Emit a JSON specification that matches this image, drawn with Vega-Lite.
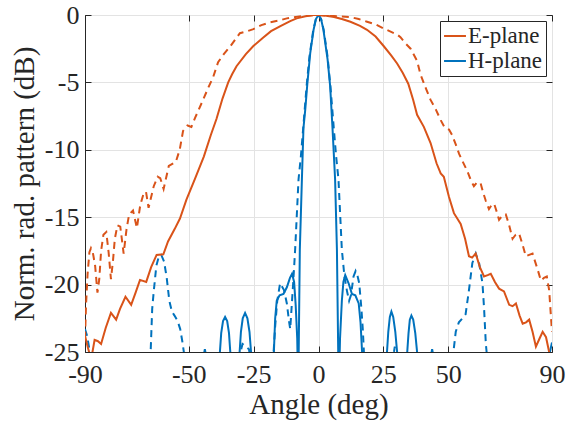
{
  "$schema": "https://vega.github.io/schema/vega-lite/v6.json",
  "autosize": "none",
  "width": 467,
  "height": 337,
  "padding": {"left": 85, "top": 15, "right": 23, "bottom": 72},
  "background": "white",
  "config": {
    "font": "Liberation Serif",
    "view": {"stroke": "#262626", "strokeWidth": 1},
    "axis": {
      "labelFont": "Liberation Serif", "titleFont": "Liberation Serif",
      "labelFontSize": 26, "titleFontSize": 29, "titleFontWeight": "normal",
      "labelColor": "#262626", "titleColor": "#262626",
      "domainColor": "#262626", "tickColor": "#262626",
      "gridColor": "#E3E3E3", "gridWidth": 1, "gridOpacity": 1,
      "tickSize": -6, "labelPadding": 12
    },
    "legend": {
      "labelFont": "Liberation Serif", "labelFontSize": 23, "labelColor": "#262626"
    },
    "text": {"font": "Liberation Serif"}
  },
  "datasets": {
    "Es": [
      {"x":-90,"y":-23.8},{"x":-89,"y":-24.6},{"x":-88,"y":-25.3},{"x":-87.3,"y":-25.2},{"x":-86.3,"y":-24.1},{"x":-85,"y":-24.2},{"x":-83.8,"y":-24.4},{"x":-82,"y":-23.2},{"x":-80,"y":-22.1},{"x":-78,"y":-22.6},{"x":-76.5,"y":-21.8},{"x":-74.4,"y":-20.9},{"x":-72.2,"y":-21.5},{"x":-70.5,"y":-20.6},{"x":-68.8,"y":-19.65},{"x":-66.4,"y":-19.8},{"x":-64.5,"y":-18.7},{"x":-62.4,"y":-17.8},{"x":-59.8,"y":-17.75},{"x":-58,"y":-16.8},{"x":-55.5,"y":-15.9},{"x":-53.4,"y":-15.1},{"x":-50.9,"y":-13.7},{"x":-47.7,"y":-12.2},{"x":-44.2,"y":-10.5},{"x":-41.5,"y":-8.9},{"x":-39.3,"y":-7.7},{"x":-37,"y":-6.2},{"x":-34.8,"y":-5.0},{"x":-33.3,"y":-4.4},{"x":-31.6,"y":-3.8},{"x":-28,"y":-2.9},{"x":-25.1,"y":-2.3},{"x":-21.5,"y":-1.7},{"x":-18.3,"y":-1.2},{"x":-14.5,"y":-0.8},{"x":-10.9,"y":-0.45},{"x":-8.4,"y":-0.25},{"x":-5,"y":-0.1},{"x":-2,"y":0},{"x":0,"y":0},{"x":3,"y":-0.05},{"x":6,"y":-0.15},{"x":9,"y":-0.3},{"x":12.3,"y":-0.5},{"x":16,"y":-0.8},{"x":18.7,"y":-1.1},{"x":22,"y":-1.6},{"x":25.1,"y":-2.3},{"x":28,"y":-3.0},{"x":30.3,"y":-3.6},{"x":32.5,"y":-4.3},{"x":34.6,"y":-5.1},{"x":36.5,"y":-6.3},{"x":38,"y":-7.4},{"x":40.6,"y":-8.3},{"x":43.2,"y":-9.5},{"x":45.5,"y":-11.0},{"x":47.1,"y":-11.75},{"x":48.3,"y":-12.0},{"x":50.3,"y":-13.5},{"x":52.2,"y":-14.7},{"x":54.8,"y":-15.5},{"x":56.5,"y":-16.6},{"x":58,"y":-17.9},{"x":59.2,"y":-18.0},{"x":60.6,"y":-17.7},{"x":62.2,"y":-18.7},{"x":63.8,"y":-19.4},{"x":65.2,"y":-19.3},{"x":66.4,"y":-19.2},{"x":68,"y":-19.8},{"x":69.6,"y":-20.3},{"x":71.5,"y":-20.5},{"x":73.5,"y":-21.5},{"x":74.8,"y":-21.6},{"x":76.1,"y":-21.4},{"x":77.5,"y":-22.3},{"x":78.7,"y":-22.9},{"x":80,"y":-22.8},{"x":81.2,"y":-22.6},{"x":82.5,"y":-23.5},{"x":83.8,"y":-24.6},{"x":85.2,"y":-24.0},{"x":86.4,"y":-23.5},{"x":87.7,"y":-23.9},{"x":88.9,"y":-25},{"x":90,"y":-26}
    ],
    "Ed": [
      {"x":-90,"y":-24},{"x":-89.6,"y":-21.5},{"x":-89,"y":-19.2},{"x":-88.3,"y":-17.6},{"x":-87.7,"y":-17.3},{"x":-87,"y":-17.6},{"x":-86.1,"y":-18.6},{"x":-85.2,"y":-20.6},{"x":-84.5,"y":-19.6},{"x":-83.8,"y":-17.5},{"x":-82.9,"y":-16.3},{"x":-81.8,"y":-16.1},{"x":-80.9,"y":-17.6},{"x":-80,"y":-19.6},{"x":-79.2,"y":-18.2},{"x":-78.5,"y":-16.6},{"x":-77.5,"y":-15.6},{"x":-76.4,"y":-15.7},{"x":-75.1,"y":-17.7},{"x":-74,"y":-15.9},{"x":-73,"y":-14.8},{"x":-71.5,"y":-14.5},{"x":-70,"y":-15.8},{"x":-68.7,"y":-14.1},{"x":-67.5,"y":-13.3},{"x":-66.5,"y":-13.1},{"x":-65.5,"y":-14.3},{"x":-63.5,"y":-12.7},{"x":-62,"y":-12.0},{"x":-61,"y":-12.1},{"x":-59.7,"y":-12.9},{"x":-57.7,"y":-11.2},{"x":-55,"y":-10.9},{"x":-53.5,"y":-10.0},{"x":-52.2,"y":-8.6},{"x":-50.5,"y":-8.2},{"x":-49,"y":-8.3},{"x":-47.5,"y":-7.6},{"x":-44.5,"y":-6.3},{"x":-42.5,"y":-5.4},{"x":-40.6,"y":-4.6},{"x":-38.7,"y":-3.5},{"x":-36.5,"y":-2.9},{"x":-34.1,"y":-2.35},{"x":-32,"y":-1.8},{"x":-30.3,"y":-1.35},{"x":-27.5,"y":-1.2},{"x":-25.1,"y":-1.05},{"x":-22,"y":-0.75},{"x":-18.7,"y":-0.55},{"x":-15,"y":-0.4},{"x":-12.2,"y":-0.25},{"x":-8,"y":-0.12},{"x":-4.5,"y":-0.05},{"x":0,"y":0},{"x":4,"y":-0.05},{"x":8,"y":-0.1},{"x":12.2,"y":-0.15},{"x":15.5,"y":-0.3},{"x":18.7,"y":-0.5},{"x":22,"y":-0.7},{"x":25.1,"y":-1.0},{"x":28,"y":-1.25},{"x":30.3,"y":-1.45},{"x":31.6,"y":-1.65},{"x":33.5,"y":-2.1},{"x":35.5,"y":-2.5},{"x":38,"y":-3.4},{"x":39.3,"y":-4.4},{"x":41.5,"y":-5.5},{"x":43.2,"y":-6.3},{"x":45.2,"y":-7.0},{"x":47.1,"y":-7.8},{"x":48.5,"y":-8.3},{"x":50.3,"y":-8.5},{"x":51.5,"y":-8.9},{"x":52.9,"y":-9.6},{"x":54.2,"y":-10.3},{"x":55.4,"y":-10.8},{"x":57.4,"y":-11.6},{"x":58.8,"y":-12.3},{"x":59.9,"y":-12.7},{"x":61.2,"y":-12.4},{"x":62.5,"y":-12.5},{"x":63.5,"y":-13.2},{"x":64.5,"y":-13.8},{"x":65.7,"y":-14.4},{"x":66.7,"y":-14.1},{"x":67.7,"y":-14.0},{"x":68.7,"y":-14.6},{"x":69.6,"y":-15.2},{"x":70.8,"y":-14.9},{"x":72.2,"y":-14.8},{"x":73.5,"y":-15.6},{"x":74.8,"y":-16.6},{"x":76,"y":-16.3},{"x":77.3,"y":-16.2},{"x":78.6,"y":-17.0},{"x":79.9,"y":-17.9},{"x":81.2,"y":-17.8},{"x":82.5,"y":-17.7},{"x":84.5,"y":-18.9},{"x":85.7,"y":-19.7},{"x":86.9,"y":-19.5},{"x":88,"y":-19.4},{"x":88.9,"y":-20.4},{"x":89.6,"y":-22.4},{"x":90,"y":-23.5}
    ],
    "Hs": [
      {"x":-90,"y":-35},{"x":-60,"y":-35},{"x":-45,"y":-35},{"x":-44.3,"y":-25.3},{"x":-43.8,"y":-24.8},{"x":-43.3,"y":-25.3},{"x":-40,"y":-35},{"x":-38,"y":-25},{"x":-37.5,"y":-23.6},{"x":-36.8,"y":-22.7},{"x":-36,"y":-22.4},{"x":-35.2,"y":-22.7},{"x":-34.5,"y":-23.6},{"x":-34,"y":-25},{"x":-32,"y":-35},{"x":-30.4,"y":-25},{"x":-29.9,"y":-23.5},{"x":-29.2,"y":-22.5},{"x":-28.3,"y":-22.1},{"x":-27.4,"y":-22.5},{"x":-26.6,"y":-23.5},{"x":-26,"y":-25},{"x":-22,"y":-35},{"x":-17.2,"y":-25},{"x":-16.7,"y":-22.5},{"x":-16.1,"y":-21.2},{"x":-15,"y":-20.8},{"x":-13.5,"y":-20.7},{"x":-12.2,"y":-20.2},{"x":-11,"y":-19.5},{"x":-10.2,"y":-19.2},{"x":-9.4,"y":-19.8},{"x":-8.8,"y":-21.5},{"x":-8.2,"y":-24},{"x":-7.8,"y":-28},{"x":-7.2,"y":-17.4},{"x":-6.4,"y":-12.2},{"x":-5.8,"y":-8.4},{"x":-5.1,"y":-7.0},{"x":-4.3,"y":-5.1},{"x":-3.2,"y":-2.85},{"x":-1.9,"y":-1.1},{"x":-1,"y":-0.3},{"x":0,"y":0},{"x":1,"y":-0.3},{"x":1.9,"y":-1.1},{"x":3.5,"y":-3.3},{"x":4.5,"y":-5.3},{"x":5.4,"y":-8.4},{"x":6.4,"y":-12.2},{"x":7.1,"y":-17.4},{"x":7.8,"y":-28},{"x":8.3,"y":-24},{"x":9,"y":-21.2},{"x":9.6,"y":-19.8},{"x":10.3,"y":-19.3},{"x":11.6,"y":-19.9},{"x":12.9,"y":-20.7},{"x":14.2,"y":-20.8},{"x":15.5,"y":-21.4},{"x":16.2,"y":-22.8},{"x":16.8,"y":-25},{"x":22,"y":-35},{"x":26.4,"y":-25},{"x":26.9,"y":-23.5},{"x":27.5,"y":-22.4},{"x":28.1,"y":-22.0},{"x":28.8,"y":-22.4},{"x":29.6,"y":-23.5},{"x":30.3,"y":-25},{"x":32,"y":-35},{"x":34.2,"y":-25},{"x":34.7,"y":-23.6},{"x":35.2,"y":-22.6},{"x":35.8,"y":-22.3},{"x":36.5,"y":-22.6},{"x":37.3,"y":-23.6},{"x":38,"y":-25},{"x":40,"y":-35},{"x":43.3,"y":-25.3},{"x":43.8,"y":-24.8},{"x":44.3,"y":-25.3},{"x":50,"y":-35},{"x":80,"y":-35},{"x":88.5,"y":-26},{"x":89.2,"y":-25},{"x":90,"y":-24.3}
    ],
    "Hd": [
      {"x":-90,"y":-23.3},{"x":-89.2,"y":-23.8},{"x":-88.3,"y":-24.8},{"x":-87.5,"y":-27},{"x":-86,"y":-35},{"x":-66,"y":-35},{"x":-64.7,"y":-25},{"x":-64.1,"y":-21.8},{"x":-63.5,"y":-20.5},{"x":-62.5,"y":-18.6},{"x":-61.5,"y":-17.9},{"x":-60.6,"y":-17.8},{"x":-59.5,"y":-18.3},{"x":-58.5,"y":-19.5},{"x":-57.5,"y":-21.2},{"x":-56.5,"y":-22},{"x":-55.5,"y":-22.3},{"x":-54.3,"y":-22.7},{"x":-53.3,"y":-23.3},{"x":-52.5,"y":-24.2},{"x":-51.9,"y":-25},{"x":-50,"y":-35},{"x":-32,"y":-35},{"x":-30.4,"y":-25.3},{"x":-29.3,"y":-24.4},{"x":-28,"y":-24.6},{"x":-26.8,"y":-24.8},{"x":-26.2,"y":-25.5},{"x":-22,"y":-35},{"x":-17.3,"y":-25},{"x":-16.7,"y":-23.1},{"x":-15.9,"y":-21.2},{"x":-14.8,"y":-19.9},{"x":-13.3,"y":-20.4},{"x":-12.2,"y":-21.4},{"x":-11.3,"y":-22.8},{"x":-10.9,"y":-23.3},{"x":-10.3,"y":-21.5},{"x":-9.7,"y":-19.7},{"x":-9,"y":-17.4},{"x":-8.4,"y":-15},{"x":-7.7,"y":-12.2},{"x":-6.8,"y":-10.5},{"x":-5.9,"y":-8.4},{"x":-4.6,"y":-5.3},{"x":-3.5,"y":-3.1},{"x":-2,"y":-1.1},{"x":-1,"y":-0.3},{"x":0,"y":0},{"x":1,"y":-0.3},{"x":2,"y":-1.1},{"x":3.5,"y":-3.1},{"x":4.6,"y":-5.3},{"x":5.9,"y":-8.4},{"x":6.8,"y":-10.5},{"x":7.7,"y":-12.2},{"x":8.4,"y":-15},{"x":9,"y":-17.4},{"x":10,"y":-19.4},{"x":11,"y":-20.5},{"x":11.8,"y":-21.2},{"x":12.5,"y":-20.8},{"x":13.5,"y":-19.4},{"x":14.3,"y":-19.0},{"x":15.1,"y":-19.4},{"x":15.7,"y":-19.9},{"x":16.5,"y":-21.7},{"x":17.1,"y":-23.4},{"x":17.5,"y":-25},{"x":22,"y":-35},{"x":28.7,"y":-25.5},{"x":29.4,"y":-24.6},{"x":30,"y":-25.5},{"x":35,"y":-35},{"x":50,"y":-35},{"x":52,"y":-25},{"x":52.9,"y":-23.5},{"x":54.1,"y":-22.8},{"x":55.5,"y":-22.5},{"x":56.7,"y":-22.2},{"x":58,"y":-20.4},{"x":59.3,"y":-18.4},{"x":60.6,"y":-17.7},{"x":61.9,"y":-18.4},{"x":63.2,"y":-19.9},{"x":63.8,"y":-21.7},{"x":64.5,"y":-24.4},{"x":64.8,"y":-25},{"x":66,"y":-35},{"x":90,"y":-35}
    ]
  },
  "encoding": {
    "x": {"field": "x", "type": "quantitative", "scale": {"domain": [-90, 90], "nice": false, "zero": false}},
    "y": {"field": "y", "type": "quantitative", "scale": {"domain": [-25, 0], "nice": false, "zero": false}}
  },
  "layer": [
    {
      "data": {"name": "Hd"},
      "mark": {"type": "line", "clip": true, "strokeWidth": 2, "strokeDash": [7, 5]},
      "encoding": {
        "x": {"field": "x", "type": "quantitative", "axis": {"values": [-90, -50, -25, 0, 25, 50, 90], "labelExpr": "'' + datum.value", "title": "Angle (deg)", "titlePadding": 3, "labelPadding": 15, "orient": "bottom", "labelFlush": false}},
        "y": {"field": "y", "type": "quantitative", "axis": {"values": [-25, -20, -15, -10, -5, 0], "labelExpr": "'' + datum.value", "title": "Norm. rad. pattern (dB)", "titlePadding": 5, "orient": "left", "labelFlush": false}},
        "color": {"datum": "H-plane", "type": "nominal", "scale": {"domain": ["E-plane", "H-plane"], "range": ["#D95319", "#0072BD"]},
          "legend": {"title": null, "orient": "top-right", "offset": 6, "strokeColor": "#262626", "fillColor": "white", "padding": 3, "symbolType": "stroke", "symbolSize": 480, "symbolStrokeWidth": 2, "rowPadding": 1, "labelOffset": 1, "labelFont": "Liberation Serif"}}
      }
    },
    {
      "data": {"name": "Ed"},
      "mark": {"type": "line", "clip": true, "strokeWidth": 2, "strokeDash": [7, 5]},
      "encoding": {
        "x": {"field": "x", "type": "quantitative", "axis": {"orient": "top", "values": [-90, -50, -25, 0, 25, 50, 90], "labels": false, "grid": false, "domain": false, "title": null}},
        "y": {"field": "y", "type": "quantitative", "axis": {"orient": "right", "values": [-25, -20, -15, -10, -5, 0], "labels": false, "grid": false, "domain": false, "title": null}},
        "color": {"datum": "E-plane", "type": "nominal"}
      }
    },
    {
      "data": {"name": "Hs"},
      "mark": {"type": "line", "clip": true, "strokeWidth": 2},
      "encoding": {
        "x": {"field": "x", "type": "quantitative", "axis": null},
        "y": {"field": "y", "type": "quantitative", "axis": null},
        "color": {"datum": "H-plane", "type": "nominal"}
      }
    },
    {
      "data": {"name": "Es"},
      "mark": {"type": "line", "clip": true, "strokeWidth": 2},
      "encoding": {
        "x": {"field": "x", "type": "quantitative", "axis": null},
        "y": {"field": "y", "type": "quantitative", "axis": null},
        "color": {"datum": "E-plane", "type": "nominal"}
      }
    }
  ]
}
